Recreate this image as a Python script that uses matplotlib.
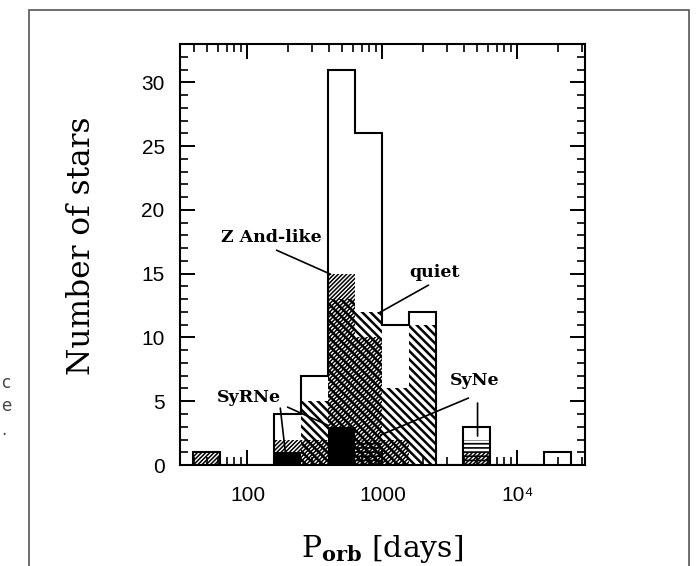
import numpy as np
import matplotlib
matplotlib.use('Agg')
import matplotlib.pyplot as plt
from matplotlib.patches import Rectangle
from matplotlib.ticker import FixedLocator, LogLocator, MultipleLocator, NullFormatter

# orbital period histogram, bins of 0.2 dex in log P (days)
log_edges = np.round(np.arange(1.6, 4.41, 0.2), 1)
all_stars = [1, 0, 0, 4, 7, 31, 26, 11, 12, 0, 3, 0, 0, 1]
quiet = [0, 0, 0, 0, 5, 13, 12, 6, 11, 0, 0, 0, 0, 0]
zand_like = [1, 0, 0, 2, 2, 15, 10, 2, 0, 0, 1, 0, 0, 0]
syne = [0, 0, 0, 0, 0, 0, 2, 0, 0, 0, 2, 0, 0, 0]
syrne = [0, 0, 0, 1, 0, 3, 0, 0, 0, 0, 0, 0, 0, 0]

x_ticks = [100, 1000, 10000]
x_ticklabels = ['100', '1000', '10\u2074']

plt.rcParams['mathtext.fontset'] = 'dejavuserif'

edges = 10 ** log_edges
left = edges[:-1]
widths = np.diff(edges)

fig = plt.figure(figsize=(6.99, 5.66), dpi=100)
ax = fig.add_axes([0.2575, 0.1784, 0.5794, 0.7438])


def hatched(values, hatch, hlw):
    with plt.rc_context({'hatch.linewidth': hlw}):
        ax.bar(left, values, width=widths, align='edge', facecolor='none',
               edgecolor='black', linewidth=0, hatch=hatch)


hatched(quiet, '\\' * 4, 1.8)
hatched(zand_like, '/' * 8, 1.1)
hatched(syne, '-' * 4, 1.2)
ax.bar(left, syrne, width=widths, align='edge', color='black', linewidth=0)
ax.stairs(all_stars, edges, color='black', linewidth=1.5)

ax.set_xscale('log')
ax.set_xlim(10 ** 1.5, 10 ** 4.5)
ax.set_ylim(0, 33)

ax.xaxis.set_major_locator(FixedLocator(x_ticks))
ax.set_xticklabels(x_ticklabels)
ax.xaxis.set_minor_locator(LogLocator(base=10, subs=np.arange(2, 10)))
ax.xaxis.set_minor_formatter(NullFormatter())
ax.yaxis.set_major_locator(MultipleLocator(5))
ax.yaxis.set_minor_locator(MultipleLocator(1))

ax.tick_params(which='both', direction='in', top=True, right=True)
ax.tick_params(which='major', length=11, width=1.4, pad=11)
ax.tick_params(axis='x', which='major', pad=15)
ax.tick_params(which='minor', length=5.5, width=1.2)
for lab in ax.get_xticklabels() + ax.get_yticklabels():
    lab.set_family(['Liberation Sans', 'DejaVu Sans'])
    lab.set_fontsize(15)
for s in ax.spines.values():
    s.set_linewidth(1.5)

ax.set_ylabel('Number of stars', family='DejaVu Serif', fontsize=22.5)
ax.yaxis.set_label_coords(-0.205, 0.522)
ax.set_xlabel(r'P$_{\mathbf{orb}}$ [days]', family='DejaVu Serif', fontsize=21.5, labelpad=20)

# labels with leader lines
lab_kw = dict(family='DejaVu Serif', fontweight='bold', fontsize=12.5, ha='center', va='center')
line_kw = dict(arrowstyle='-', color='black', lw=1.2, shrinkA=0, shrinkB=0)
ax.text(150, 17.85, 'Z And-like', **lab_kw)
ax.annotate('', xy=(412, 14.96), xytext=(164, 16.84), arrowprops=line_kw)
ax.text(2430, 15.1, 'quiet', **lab_kw)
ax.annotate('', xy=(933, 11.9), xytext=(2190, 14.1), arrowprops=line_kw)
ax.text(103, 5.3, 'SyRNe', **lab_kw)
ax.annotate('', xy=(191, 0.94), xytext=(175, 4.46), arrowprops=line_kw)
ax.annotate('', xy=(391, 3.13), xytext=(198, 4.54), arrowprops=line_kw)
ax.text(4800, 6.6, 'SyNe', **lab_kw)
ax.annotate('', xy=(966, 2.35), xytext=(4335, 5.25), arrowprops=line_kw)
ax.annotate('', xy=(5060, 2.27), xytext=(5060, 4.86), arrowprops=line_kw)

# page frame and cut-off caption letters from the scan
fig.add_artist(Rectangle((0.0415, -0.1), 0.944, 1.082, transform=fig.transFigure,
                         fill=False, edgecolor='#555555', lw=1.2))
for yy, ch in [(383, 'c'), (406, 'e'), (430, '.')]:
    fig.text(0.002, 1 - yy / 566, ch, fontsize=12, color='#444444', va='center')

fig.savefig('out.png', dpi=100)
